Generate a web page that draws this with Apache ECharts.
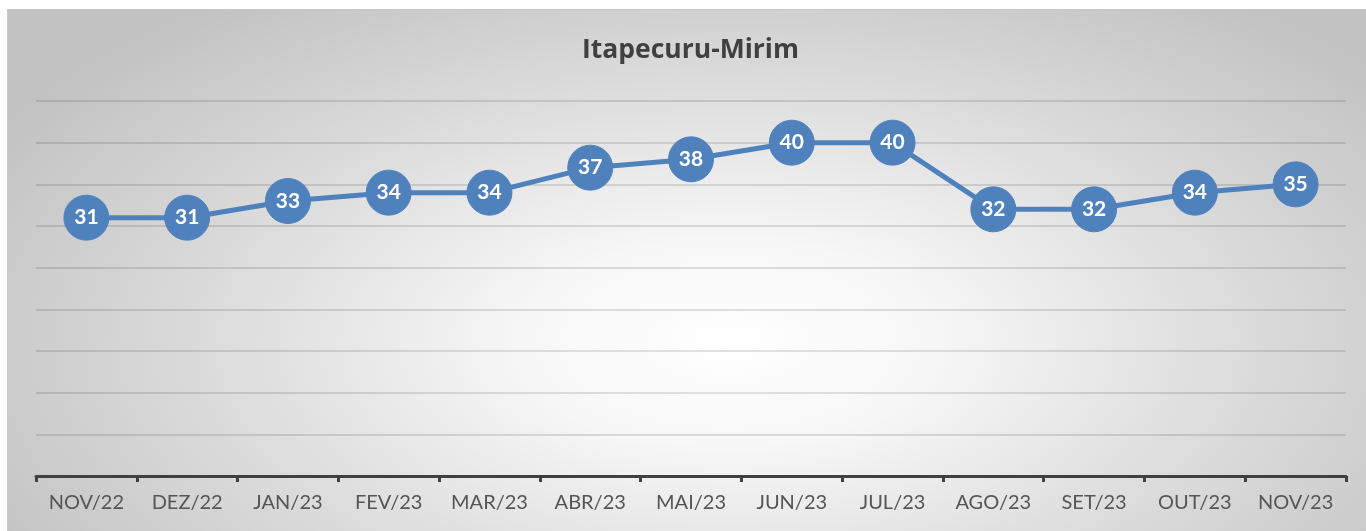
<!DOCTYPE html>
<html><head><meta charset="utf-8">
<script src="https://cdn.jsdelivr.net/npm/echarts@6/dist/echarts.min.js"></script>
<style>
html,body{margin:0;padding:0;background:#fff;}
#bg{position:absolute;left:7px;top:9px;width:1359px;height:522px;
background:radial-gradient(ellipse 62% 82% at 53% 64%, #ffffff 0%, #f7f7f7 24%, #dedede 58%, #c2c2c2 100%);
border-top:1px solid #c8c8c8;border-left:1px solid #c8c8c8;box-sizing:border-box;}
#c{position:absolute;left:0;top:0;width:1366px;height:531px;}
</style></head><body>
<div id="bg"></div>
<div id="c"></div>
<script>
const title = 'Itapecuru-Mirim';
const categories = ['NOV/22','DEZ/22','JAN/23','FEV/23','MAR/23','ABR/23','MAI/23','JUN/23','JUL/23','AGO/23','SET/23','OUT/23','NOV/23'];
const values = [31,31,33,34,34,37,38,40,40,32,32,34,35];

const chart = echarts.init(document.getElementById('c'), null, {renderer:'canvas'});
chart.setOption({
  backgroundColor: 'transparent',
  animation: false,
  title: {text: title, left: 577, top: 32,
    textStyle: {fontFamily: 'Open Sans', fontWeight: 'bold', fontSize: 26.5, color: '#404040'}},
  grid: {left: 36, right: 20, top: 101, bottom: 55},
  xAxis: {type: 'category', data: categories, boundaryGap: true,
    axisLine: {lineStyle: {color: '#404040', width: 3}},
    axisTick: {show: true, length: 6, lineStyle: {color: '#404040', width: 3}},
    axisLabel: {color: '#555555', fontFamily: 'Lato', fontSize: 20, margin: 17, interval: 0, hideOverlap: false},
    splitLine: {show: false}},
  yAxis: {type: 'value', min: 0, max: 45, interval: 5,
    axisLine: {show: false}, axisTick: {show: false}, axisLabel: {show: false},
    splitLine: {lineStyle: {color: 'rgba(0,0,0,0.16)', width: 1.5}}},
  series: [{type: 'line', data: values, symbol: 'circle', symbolSize: 45,
    lineStyle: {color: '#4F81BD', width: 5},
    itemStyle: {color: '#4F81BD', borderColor: '#4F81BD'},
    label: {show: true, position: 'inside', color: '#fff', fontFamily: 'Lato', fontWeight: 'bold', fontSize: 21}}]
});
</script></body></html>
